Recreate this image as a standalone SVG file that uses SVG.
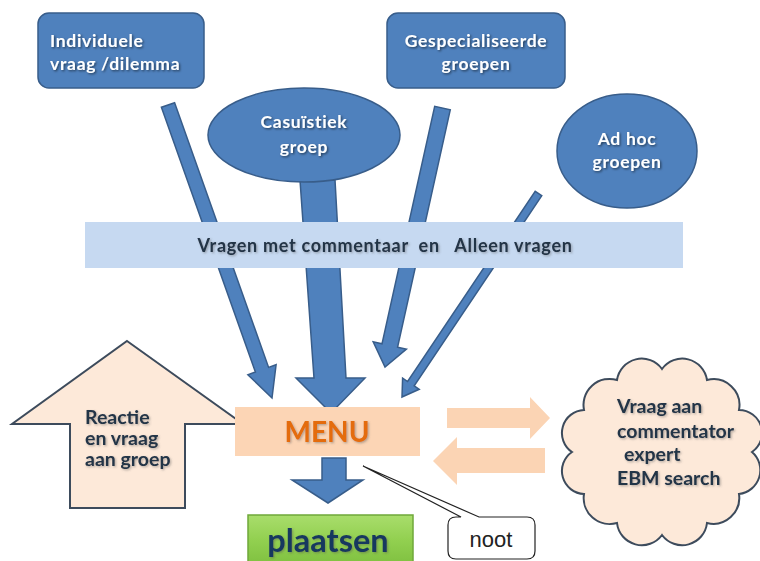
<svg xmlns="http://www.w3.org/2000/svg" width="760" height="561" viewBox="0 0 760 561">
<defs>
<filter id="sh" x="-10%" y="-20%" width="130%" height="150%">
<feDropShadow dx="1.2" dy="1.2" stdDeviation="0.8" flood-color="#000" flood-opacity="0.55"/>
</filter>
<filter id="shl" x="-10%" y="-20%" width="130%" height="150%">
<feDropShadow dx="1.2" dy="1.2" stdDeviation="0.8" flood-color="#555" flood-opacity="0.45"/>
</filter>
<linearGradient id="green" x1="0" y1="0" x2="0" y2="1">
<stop offset="0" stop-color="#a9dd6c"/>
<stop offset="0.5" stop-color="#92d050"/>
<stop offset="1" stop-color="#7fc040"/>
</linearGradient>
<style>
.blue{fill:#4f81bd;stroke:#385d8a;stroke-width:1.5}
.peach{fill:#fbd4b4}
.lpeach{fill:#fde9d9;stroke:#3d4b5c;stroke-width:2}
.wt{font-family:Lato,"Open Sans",sans-serif;font-weight:bold;fill:#fff;font-size:17.5px;letter-spacing:0.7px;filter:url(#sh)}
.dt{font-family:Lato,"Open Sans",sans-serif;font-weight:bold;fill:#243447;font-size:19.5px;filter:url(#shl)}
</style>
</defs>
<rect width="760" height="561" fill="#fff"/>

<g id="connectors">
<polygon class="blue" points="174.6,102.7 268.6,367.4 276.1,364.7 272,398 247.9,374.7 255.4,372 161.4,107.3"/>
<polygon class="blue" points="300,180 335,180 346,378 365,378 331,413 296,378 314,378"/>
<polygon class="blue" points="450.3,109.7 397.6,347.2 406.4,349.2 385,367 373.2,341.8 382,343.8 434.7,106.3"/>
<polygon class="blue" points="541.8,195.7 414.2,385.9 419.2,389.3 402,397 402.6,378.1 407.6,381.5 535.2,191.3"/>
<polygon class="blue" points="322,458 346,458 346,480 363,480 328,503 292,480 322,480"/>
<polygon class="peach" points="447,408 530,408 530,397 550,418 530,439 530,428 447,428"/>
<polygon class="peach" points="545,448 457,448 457,437 433,461 457,485 457,473 545,473"/>
</g>

<g id="node-individuele">
<rect class="blue" x="38" y="13" width="166" height="75" rx="11"/>
<text class="wt" x="50" y="47">Individuele</text>
<text class="wt" x="50" y="70">vraag /dilemma</text>
</g>

<g id="node-gespecialiseerde">
<rect class="blue" x="387" y="13" width="178" height="75" rx="11"/>
<text class="wt" x="476" y="47" text-anchor="middle">Gespecialiseerde</text>
<text class="wt" x="476" y="70" text-anchor="middle">groepen</text>
</g>

<g id="node-casuistiek">
<ellipse class="blue" cx="304" cy="135" rx="96" ry="47"/>
<text class="wt" x="304" y="128" text-anchor="middle">Casuïstiek</text>
<text class="wt" x="304" y="153" text-anchor="middle">groep</text>
</g>

<g id="node-adhoc">
<ellipse class="blue" cx="627" cy="151" rx="70" ry="57"/>
<text class="wt" x="627" y="145" text-anchor="middle">Ad hoc</text>
<text class="wt" x="627" y="168" text-anchor="middle">groepen</text>
</g>

<g id="node-band">
<rect x="85" y="222" width="598" height="46" fill="#c6d9f1"/>
<text class="dt" x="385" y="252" text-anchor="middle" style="font-size:18px;letter-spacing:0.7px" xml:space="preserve">Vragen met commentaar  en   Alleen vragen</text>
</g>

<g id="node-reactie">
<polygon class="lpeach" points="127,341 243,424 185,424 185,508 70,508 70,424 12,424"/>
<text class="dt" x="85" y="424">Reactie</text>
<text class="dt" x="85" y="445">en vraag</text>
<text class="dt" x="85" y="466">aan groep</text>
</g>

<g id="node-menu">
<rect x="235" y="407" width="185" height="49" fill="#fcd5b5"/>
<text x="327" y="442" text-anchor="middle" font-family="Lato,'Open Sans',sans-serif" font-weight="bold" font-size="28" fill="#e46c0a" filter="url(#shl)">MENU</text>
</g>

<g id="node-plaatsen">
<rect x="248" y="515" width="165" height="50" fill="url(#green)" stroke="#6fa83a" stroke-width="1.5"/>
<text x="328" y="552" text-anchor="middle" font-family="Lato,'Open Sans',sans-serif" font-weight="bold" font-size="32.5" fill="#17375e" filter="url(#shl)">plaatsen</text>
</g>

<g id="node-noot">
<path d="M456,517 L461,517 L363,466 L479,517 L527,517 Q535,517 535,525 L535,551 Q535,559 527,559 L456,559 Q448,559 448,551 L448,525 Q448,517 456,517 Z" fill="#fff" stroke="#222" stroke-width="1.2"/>
<text x="491" y="547" text-anchor="middle" font-family="'Liberation Sans',Arial,sans-serif" font-size="22" fill="#222">noot</text>
</g>

<g id="node-cloud">
<path class="lpeach" d="M752,452 A24,24 0 0 1 739,494 A26,26 0 0 1 707,523 A25,25 0 0 1 662,535 A25,25 0 0 1 617,523 A26,26 0 0 1 584,494 A23,23 0 0 1 572,452 A23,23 0 0 1 584,410 A26,26 0 0 1 617,380 A25,25 0 0 1 662,369 A25,25 0 0 1 707,380 A26,26 0 0 1 739,410 A23,23 0 0 1 752,452 Z"/>
<text class="dt" x="617" y="413">Vraag aan</text>
<text class="dt" x="617" y="438">commentator</text>
<text class="dt" x="624" y="461">expert</text>
<text class="dt" x="617" y="485">EBM search</text>
</g>
</svg>
